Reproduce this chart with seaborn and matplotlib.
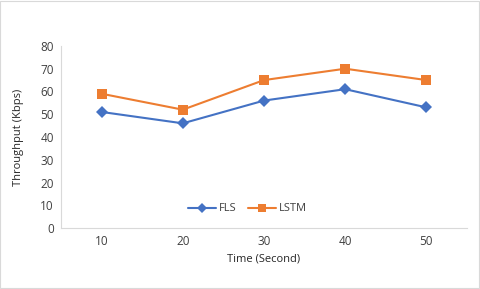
import seaborn as sns
import pandas as pd
import matplotlib.pyplot as plt

# ========= data =========
times = ["10", "20", "30", "40", "50"]
fls = [51, 46, 56, 61, 53]
lstm = [59, 52, 65, 70, 65]
# ========================

df = pd.DataFrame({
    "time": times * 2,
    "value": fls + lstm,
    "model": ["FLS"] * len(times) + ["LSTM"] * len(times),
})

sns.set_style("white")
plt.rcParams["font.family"] = ["Open Sans", "DejaVu Sans"]

fig = plt.figure(figsize=(4.8, 2.89), dpi=100)
ax = fig.add_axes([0.127, 0.211, 0.846, 0.630])

sns.lineplot(data=df, x="time", y="value", hue="model", style="model",
             palette={"FLS": "#4472C4", "LSTM": "#ED7D31"},
             markers={"FLS": "D", "LSTM": "s"}, dashes=False,
             markersize=6.5, linewidth=1.5, markeredgewidth=0, ax=ax)

ax.set_ylim(0, 80)
ax.set_yticks(range(0, 81, 10))
ax.set_xlim(-0.5, 4.5)
ax.set_xlabel("Time (Second)", fontsize=8, color="#262626", labelpad=4)
ax.set_ylabel("Throughput (Kbps)", fontsize=8, color="#262626", labelpad=12)
ax.tick_params(axis="both", labelsize=8.5, colors="#404040", length=0, pad=5)

for s in ["top", "right"]:
    ax.spines[s].set_visible(False)
for s in ["left", "bottom"]:
    ax.spines[s].set_color("#D9D9D9")
    ax.spines[s].set_linewidth(0.8)

leg = ax.legend(loc="center", bbox_to_anchor=(0.46, 0.105), ncol=2, frameon=False,
                fontsize=8, handlelength=2.5, columnspacing=1.0, handletextpad=0.3,
                markerscale=0.8)
for t in leg.get_texts():
    t.set_color("#404040")

fig.patches.append(plt.Rectangle((0.001, 0.002), 0.997, 0.995, transform=fig.transFigure,
                                 fill=False, edgecolor="#D9D9D9", linewidth=0.8))

fig.savefig("out.png", dpi=100)
